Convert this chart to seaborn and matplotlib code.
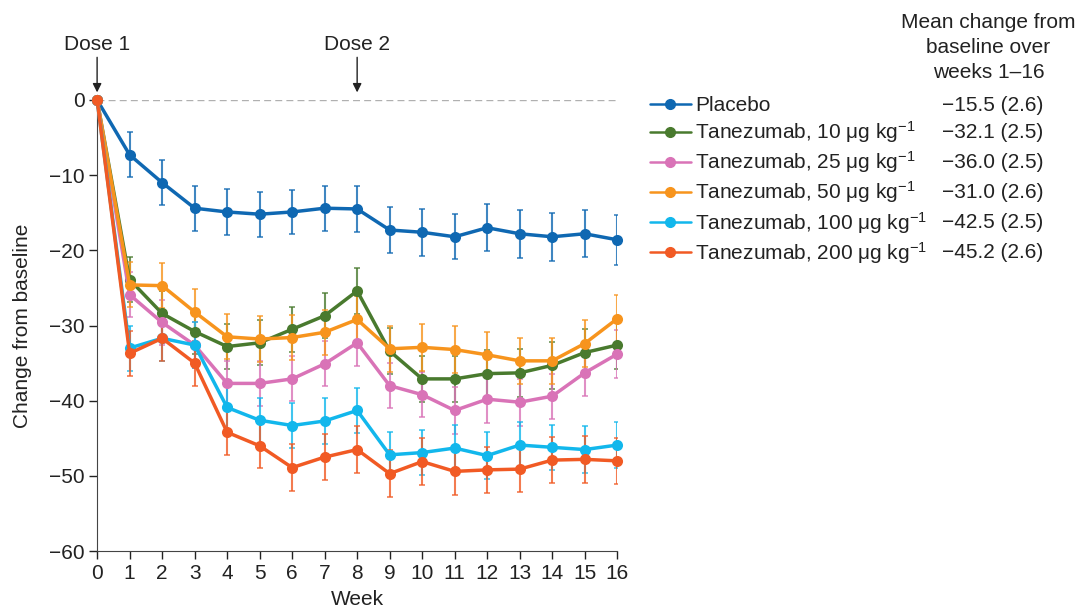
import numpy as np
import pandas as pd
import matplotlib.pyplot as plt
import seaborn as sns

weeks = list(range(17))

groups = ['Placebo', 'Tanezumab, 10 μg kg$^{-1}$', 'Tanezumab, 25 μg kg$^{-1}$',
          'Tanezumab, 50 μg kg$^{-1}$', 'Tanezumab, 100 μg kg$^{-1}$',
          'Tanezumab, 200 μg kg$^{-1}$']
overall = ['−15.5 (2.6)', '−32.1 (2.5)', '−36.0 (2.5)',
           '−31.0 (2.6)', '−42.5 (2.5)', '−45.2 (2.6)']

placebo = [0, -7.3, -11.0, -14.4, -14.9, -15.2, -14.9, -14.4, -14.5,
           -17.3, -17.6, -18.2, -17.0, -17.8, -18.2, -17.8, -18.6]
tan10 = [0, -23.9, -28.4, -30.8, -32.8, -32.3, -30.5, -28.7, -25.4,
         -33.4, -37.1, -37.1, -36.4, -36.3, -35.3, -33.6, -32.6]
tan25 = [0, -25.9, -29.6, -32.6, -37.7, -37.7, -37.1, -35.1, -32.3,
         -38.0, -39.2, -41.3, -39.8, -40.2, -39.4, -36.3, -33.8]
tan50 = [0, -24.6, -24.7, -28.2, -31.5, -31.8, -31.6, -30.9, -29.2,
         -33.1, -32.9, -33.2, -33.9, -34.7, -34.7, -32.4, -29.1]
tan100 = [0, -33.0, -31.7, -32.6, -40.9, -42.6, -43.3, -42.7, -41.3,
          -47.2, -46.9, -46.3, -47.3, -45.9, -46.2, -46.5, -45.9]
tan200 = [0, -33.7, -31.7, -35.0, -44.2, -46.0, -48.9, -47.5, -46.5,
          -49.7, -48.1, -49.4, -49.2, -49.1, -47.9, -47.8, -48.0]

# standard errors (weeks 1-16)
se_placebo = [3.0, 3.0, 3.0, 3.0, 3.0, 2.9, 3.0, 3.0, 3.0, 3.1, 3.0, 3.1, 3.2, 3.2, 3.1, 3.3]
se_tan10 = [3.0, 3.0, 3.0, 3.0, 3.0, 3.0, 3.0, 3.1, 3.1, 3.1, 3.1, 3.1, 3.2, 3.1, 3.1, 3.2]
se_tan25 = [3.0, 3.0, 3.0, 3.0, 3.0, 3.0, 3.0, 3.1, 3.0, 3.0, 3.1, 3.1, 3.1, 3.0, 3.1, 3.2]
se_tan50 = [3.0, 3.0, 3.0, 3.0, 3.0, 3.0, 3.0, 3.1, 3.1, 3.1, 3.1, 3.1, 3.1, 3.1, 3.1, 3.2]
se_tan100 = [3.0, 3.0, 3.0, 3.0, 3.0, 3.0, 3.0, 3.0, 3.1, 3.0, 3.1, 3.1, 3.1, 3.0, 3.1, 3.1]
se_tan200 = [3.0, 3.0, 3.0, 3.0, 3.0, 3.1, 3.1, 3.1, 3.1, 3.1, 3.1, 3.1, 3.1, 3.1, 3.1, 3.1]

colors = ['#0f68b2', '#497a2e', '#d973b7', '#f7941d', '#12b7ec', '#f15a24']

means = [placebo, tan10, tan25, tan50, tan100, tan200]
ses = [se_placebo, se_tan10, se_tan25, se_tan50, se_tan100, se_tan200]

df = pd.DataFrame({
    'Week': weeks * len(groups),
    'Change': sum(means, []),
    'Group': [g for g in groups for _ in weeks],
})

sns.set_style('ticks')
plt.rcParams['font.family'] = ['Liberation Sans', 'DejaVu Sans']
plt.rcParams['mathtext.fontset'] = 'custom'
plt.rcParams['mathtext.rm'] = 'Liberation Sans'
plt.rcParams['mathtext.it'] = 'Liberation Sans:italic'
plt.rcParams['mathtext.bf'] = 'Liberation Sans:bold'
plt.rcParams['axes.unicode_minus'] = True

FS = 15
TXT = '#222222'

fig = plt.figure(figsize=(10.79, 6.13), dpi=100)
ax = fig.add_axes([0.09, 0.101, 0.482, 0.736])

ax.axhline(0, color='#b0b0b0', lw=1, ls=(0, (5, 3)), zorder=0)

for m, s, c in zip(means, ses, colors):
    ax.errorbar(weeks[1:], m[1:], yerr=s, fmt='none', ecolor=c, alpha=0.8,
                elinewidth=1.5, capsize=2, capthick=1.2, zorder=2)

sns.lineplot(data=df, x='Week', y='Change', hue='Group', hue_order=groups,
             palette=colors, marker='o', markersize=8, markeredgewidth=0,
             linewidth=2.5, ax=ax, legend=False, zorder=3, clip_on=False)

ax.set_xlim(0, 16)
ax.set_ylim(-60, 0)
ax.set_xticks(range(17))
ax.set_yticks(range(-60, 1, 10))
ax.tick_params(labelsize=FS, length=6, width=1, colors=TXT, direction='out', pad=3)
sns.despine(ax=ax)
ax.spines['left'].set_color('#444444')
ax.spines['bottom'].set_color('#444444')
ax.set_xlabel('Week', fontsize=FS, color=TXT, labelpad=5)
ax.set_ylabel('Change from baseline', fontsize=FS, color=TXT, labelpad=12)

for wk, lab in [(0, 'Dose 1'), (8, 'Dose 2')]:
    ax.annotate(lab, xy=(wk, 1.0), xytext=(wk, 6.1), ha='center', va='bottom',
                fontsize=FS, color=TXT, annotation_clip=False,
                arrowprops=dict(arrowstyle='-|>', color=TXT, lw=1,
                                mutation_scale=13, shrinkA=0, shrinkB=0))

handles = [plt.Line2D([], [], color=c, marker='o', markersize=7, lw=1.8) for c in colors]
leg = fig.legend(handles, groups, loc='upper left', bbox_to_anchor=(0.602, 0.843),
                 frameon=False, fontsize=FS, handlelength=2.0, handletextpad=0.2,
                 labelspacing=0.2, borderpad=0, borderaxespad=0)
for t in leg.get_texts():
    t.set_color(TXT)

fig.canvas.draw()
inv = fig.transFigure.inverted()
for t, val in zip(leg.get_texts(), overall):
    bb = t.get_window_extent()
    yc = inv.transform((0, (bb.y0 + bb.y1) / 2))[1]
    fig.text(0.967, yc, val, ha='right', va='center', fontsize=FS, color=TXT)

fig.text(0.916, 0.979, 'Mean change from\nbaseline over\nweeks 1–16', ha='center', va='top',
         fontsize=FS, color=TXT, linespacing=1.42)

fig.savefig('out.png', dpi=100)
